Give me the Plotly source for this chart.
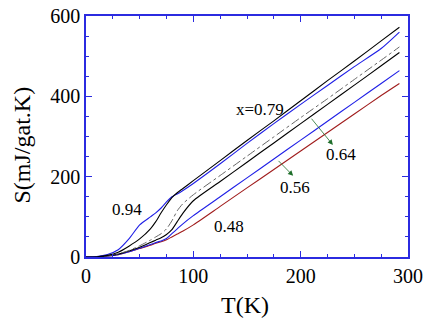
import plotly.graph_objects as go

# temperature grid (K) and entropy curves S (mJ/gat.K)
t_low = [0, 10, 20, 30, 40, 50, 60, 65, 70, 75, 80, 85, 90, 100]
t_high = [125, 150, 175, 200, 225, 250, 275, 292]

s_079 = [0, 0.5, 4, 12, 27, 45, 70, 88, 110, 130, 148, 160, 170, 190,
         240, 290, 339, 389, 439, 488, 538, 572]
s_094 = [0, 1, 6, 18, 45, 80, 100, 110, 122, 137, 150, 157, 165, 183,
         232, 283, 332, 380, 427, 474, 519, 560]
s_dash = [0, 0.5, 3, 8, 16, 28, 42, 50, 58, 70, 90, 115, 132, 155,
          203, 251, 299, 347, 394, 442, 490, 523]
s_064 = [0, 0.5, 3, 7, 15, 24, 36, 42, 48, 56, 68, 88, 108, 140,
         188, 236, 284, 332, 380, 428, 476, 509]
s_056 = [0, 0.5, 2.5, 6, 13, 22, 31, 36, 40, 46, 58, 70, 82, 103,
         150, 197, 244, 291, 338, 385, 432, 464]
s_048 = [0, 0.5, 2.5, 6, 13, 21, 29, 34, 38, 43, 50, 57, 64, 80,
         126, 172, 218, 264, 310, 356, 402, 432]

T = t_low + t_high

fig = go.Figure()

def add(s, color, dash='solid', width=1.1):
    fig.add_trace(go.Scatter(x=T, y=s, mode='lines', line=dict(color=color, dash=dash, width=width,
                                                             shape='spline', smoothing=0.6),
                             hoverinfo='none', showlegend=False))

add(s_048, '#a01c1c')
add(s_056, '#1f1fe6')
add(s_064, 'black')
add(s_dash, '#666666', dash='dashdot', width=1)
add(s_094, '#1f1fe6')
add(s_079, 'black')

serif = 'Liberation Serif'
axis_col = '#2b2be0'

# curve labels
labels = [('x=0.79', 162, 366), ('0.94', 38, 119), ('0.48', 133, 77),
          ('0.56', 195, 174), ('0.64', 238, 254)]
for txt, tx, sy in labels:
    fig.add_annotation(x=tx, y=sy, text=txt, showarrow=False,
                       font=dict(family=serif, size=17, color='black'))

# arrows (tail -> head)
arrows = [((209, 348), (230, 279)), ((178, 243), (193, 202))]
for (x0, y0), (x1, y1) in arrows:
    fig.add_annotation(x=x1, y=y1, ax=x0, ay=y0, axref='x', ayref='y', text='',
                       showarrow=True, arrowhead=2, arrowsize=1.3, arrowwidth=0.8,
                       arrowcolor='#1e6e2a')

# axis titles
fig.add_annotation(x=0.494, y=-0.2, xref='paper', yref='paper', text='T(K)', showarrow=False,
                   xanchor='center', yanchor='middle',
                   font=dict(family=serif, size=24, color='black'))
fig.add_annotation(x=-0.2, y=0.465, xref='paper', yref='paper', text='S(mJ/gat.K)', showarrow=False,
                   xanchor='center', yanchor='middle', textangle=-90,
                   font=dict(family=serif, size=24, color='black'))

fig.update_xaxes(range=[0, 300], tickvals=[0, 100, 200, 300], ticks='inside', ticklen=6,
                 tickcolor=axis_col, showline=True, linecolor=axis_col, linewidth=1.5,
                 mirror='allticks', showgrid=False, zeroline=False, automargin=False,
                 minor=dict(dtick=25, ticks='inside', ticklen=3, tickcolor=axis_col),
                 tickfont=dict(family=serif, size=20, color='black'))
fig.update_yaxes(range=[0, 600], tickvals=[0, 200, 400, 600], ticks='inside', ticklen=6,
                 tickcolor=axis_col, showline=True, linecolor=axis_col, linewidth=1.5,
                 mirror='allticks', showgrid=False, zeroline=False, automargin=False,
                 minor=dict(dtick=50, ticks='inside', ticklen=3, tickcolor=axis_col),
                 tickfont=dict(family=serif, size=20, color='black'))

fig.update_layout(width=436, height=322, margin=dict(l=86, r=28, t=16, b=65),
                  plot_bgcolor='white', paper_bgcolor='white')

# drop the default page margin so the figure sits at the window's top-left corner
fig.write_html("out.html", config={'displayModeBar': False},
               post_script="document.body.style.margin='0';")
